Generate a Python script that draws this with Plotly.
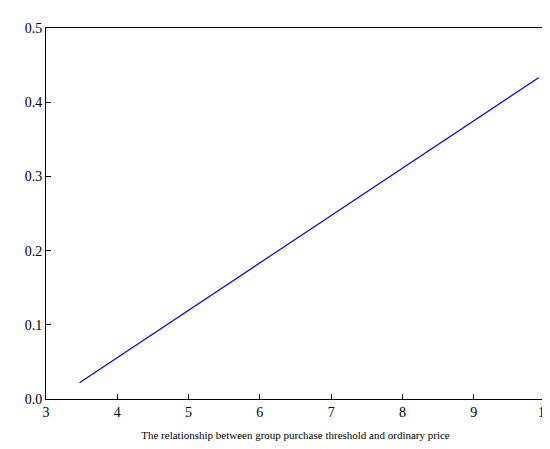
import plotly.graph_objects as go

# threshold vs price (straight line, read at the ends)
threshold = [3.47, 9.91]
price = [0.022, 0.433]

x_ticks = [3, 4, 5, 6, 7, 8, 9, 10]
y_ticks = [0, 0.1, 0.2, 0.3, 0.4, 0.5]
y_labels = ["0.0", "0.1", "0.2", "0.3", "0.4", "0.5"]

fig = go.Figure(go.Scatter(x=threshold, y=price, mode="lines",
                           line=dict(color="#0000ff", width=1.2)))

axis_style = dict(showline=True, mirror=True, linecolor="black", linewidth=1,
                  ticks="inside", ticklen=5, tickcolor="black",
                  showgrid=False, zeroline=False, automargin=False)

fig.update_layout(
    width=550, height=449,
    margin=dict(l=38, r=13, t=20, b=58),
    plot_bgcolor="white", paper_bgcolor="white",
    font=dict(family="Liberation Serif", size=14, color="black"),
    showlegend=False,
    xaxis=dict(range=[3, 10], tickvals=x_ticks,
               title=dict(text="The relationship between group purchase threshold and ordinary price",
                          font=dict(family="Liberation Serif", size=11), standoff=12),
               **axis_style),
    yaxis=dict(range=[0, 0.5], tickvals=y_ticks, ticktext=y_labels, **axis_style),
)

fig.write_html("out.html")
